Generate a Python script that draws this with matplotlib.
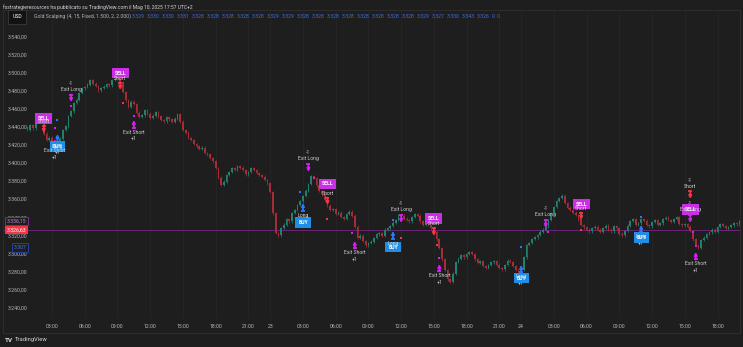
import matplotlib
matplotlib.use('Agg')
import matplotlib.pyplot as plt
from matplotlib.transforms import offset_copy, blended_transform_factory
from matplotlib.patches import Rectangle
import numpy as np

plt.rcParams['font.family'] = ['Roboto', 'DejaVu Sans']

# ---------------- data (15-minute closes) ----------------
first_open = 3440.0
closes = [
    3437.5, 3442.6, 3439.0, 3448.1, 3451.0, 3449.2, 3433.0, 3426.0, 3428.5, 3417.1,
    3424.0, 3421.6, 3427.5, 3437.0, 3441.0, 3452.5, 3458.0, 3466.9, 3470.5, 3478.0,
    3483.0, 3484.7, 3487.0, 3492.4, 3488.5, 3485.8, 3481.0, 3483.5, 3485.0, 3488.0,
    3486.5, 3492.4, 3494.0, 3499.0, 3490.0, 3479.1, 3470.0, 3462.5, 3468.5, 3465.8,
    3456.0, 3451.4, 3453.5, 3459.2, 3455.0, 3450.3, 3453.0, 3457.0, 3452.0, 3448.1,
    3446.5, 3451.4, 3449.0, 3445.9, 3449.5, 3454.8, 3446.0, 3437.0, 3434.0, 3428.2,
    3426.0, 3421.6, 3419.0, 3416.0, 3417.5, 3411.6, 3410.0, 3406.1, 3402.5, 3395.0,
    3384.0, 3376.2, 3380.0, 3387.2, 3390.5, 3395.0, 3393.0, 3397.2, 3395.5, 3392.8,
    3388.0, 3390.6, 3394.5, 3392.8, 3389.5, 3387.2, 3385.5, 3381.7, 3378.0, 3368.4,
    3345.0, 3323.0, 3320.5, 3328.6, 3332.0, 3338.5, 3336.0, 3345.2, 3348.5, 3354.0,
    3358.0, 3364.0, 3370.0, 3377.3, 3386.0, 3383.9, 3376.0, 3369.5, 3366.0, 3359.6,
    3353.0, 3348.5, 3349.5, 3344.1, 3345.5, 3340.7, 3338.5, 3344.1, 3346.5, 3341.9,
    3330.0, 3317.5, 3320.0, 3314.2, 3309.5, 3312.0, 3313.5, 3317.5, 3321.5, 3323.0,
    3320.0, 3326.4, 3328.0, 3330.8, 3334.5, 3337.4, 3343.0, 3341.9, 3339.0, 3337.4,
    3336.0, 3340.7, 3343.5, 3341.9, 3336.0, 3331.9, 3334.5, 3331.9, 3328.0, 3324.1,
    3316.0, 3306.4, 3294.0, 3282.1, 3272.0, 3268.8, 3278.0, 3290.9, 3294.5, 3298.7,
    3296.0, 3299.8, 3302.0, 3299.8, 3294.0, 3289.8, 3291.5, 3286.5, 3284.5, 3287.6,
    3290.5, 3292.0, 3288.0, 3284.3, 3283.0, 3287.6, 3292.5, 3290.9, 3286.5, 3282.1,
    3279.5, 3282.1, 3296.0, 3309.7, 3312.0, 3316.4, 3318.5, 3320.8, 3324.5, 3326.4,
    3330.0, 3337.4, 3345.0, 3351.8, 3358.5, 3361.8, 3364.5, 3356.2, 3351.0, 3348.5,
    3345.5, 3343.0, 3338.0, 3331.9, 3329.5, 3326.4, 3325.0, 3328.6, 3330.0, 3326.4,
    3324.5, 3328.6, 3331.0, 3326.4, 3325.0, 3330.8, 3328.0, 3322.0, 3320.5, 3325.2,
    3331.0, 3336.3, 3338.0, 3331.9, 3334.0, 3338.5, 3336.5, 3331.9, 3330.5, 3335.2,
    3337.0, 3331.9, 3334.0, 3338.5, 3340.0, 3337.4, 3335.5, 3338.5, 3340.5, 3333.0,
    3331.5, 3333.0, 3330.0, 3325.2, 3316.0, 3309.7, 3306.5, 3315.3, 3318.0, 3321.9,
    3324.0, 3326.4, 3324.5, 3329.7, 3332.5, 3330.8, 3328.0, 3329.7, 3331.5, 3334.1,
    3332.5, 3336.2,
]
bars_per_hour = 4

price_ticks = [3240, 3260, 3280, 3300, 3320, 3340, 3360, 3380, 3400, 3420,
               3440, 3460, 3480, 3500, 3520, 3540]
time_tick_hours = [2, 5, 8, 11, 14, 17, 20, 22, 25, 28, 31, 34, 37, 40, 43, 45,
                   48, 51, 54, 57, 60, 63]
time_tick_labels = ['03:00', '06:00', '09:00', '12:00', '15:00', '18:00', '21:00', '23',
                    '03:00', '06:00', '09:00', '12:00', '15:00', '18:00', '21:00', '24',
                    '03:00', '06:00', '09:00', '12:00', '15:00', '18:00']

# strategy orders (15-min bar index, arrow tip price)
short_bars = [6, 34, 110, 149, 203, 243]
short_tips = [3433.7, 3481.3, 3354.0, 3319.7, 3337.4, 3360.7]
long_bars = [11, 101, 134, 181, 225]
long_tips = [3432.6, 3356.2, 3325.2, 3287.6, 3331.9]
xshort_bars = [10, 39, 120, 151, 245]
xshort_tips = [3427.1, 3448.1, 3314.2, 3288.7, 3302.0]
xlong_bars = [16, 103, 137, 190, 243]
xlong_tips = [3468.0, 3390.6, 3334.1, 3328.6, 3334.1]

# indicator labels
sell_lbl_bars = [6, 34, 110, 149, 203, 243]
sell_lbl_prices = [3449.8, 3500.1, 3377.3, 3339.1, 3355.1, 3349.0]
buy_lbl_bars = [11, 101, 134, 181, 225]
buy_lbl_prices = [3418.8, 3334.7, 3307.5, 3273.2, 3318.0]

# indicator dots
dot_bars = [11, 10, 16, 35, 39, 100, 105, 110, 119, 134, 137, 150, 151, 181, 191, 203,
            225, 244, 245]
dot_prices = [3448.1, 3439.3, 3463.6, 3466.9, 3452.5, 3368.4, 3383.9, 3338.5, 3323.0,
              3337.4, 3317.5, 3309.7, 3295.4, 3307.5, 3324.1, 3326.4, 3340.7, 3324.1, 3308.6]
dot_kind = ['b', 'm', 'm', 'r', 'm', 'b', 'm', 'r', 'm', 'b', 'r', 'r', 'm', 'b', 'm',
            'r', 'b', 'm', 'm']

legend_values = [3.329, 3.330, 3.330, 3.331, 3.328, 3.328, 3.328, 3.328, 3.328, 3.329,
                 3.329, 3.328, 3.328, 3.328, 3.328, 3.328, 3.328, 3.328, 3.328, 3.329,
                 3.327, 3.330, 3.343, 3.326]
last_price = 3326.63
tag_purple = 3336.15
tag_blue = 3307

# ---------------- style ----------------
BG = '#1e1e1e'
UP = '#23806e'
DOWN = '#a42d38'
RED = '#f23645'
BLUE = '#2979ff'
MAG = '#d41ff0'
BOXMAG = '#cc2ee8'
BOXBLUE = '#1e8ee6'
TXT = '#c8cad0'
GRID = '#262626'

W, H = 743, 347
fig = plt.figure(figsize=(W / 100, H / 100), dpi=100)
fig.patch.set_facecolor(BG)


def px_axes(x0, y0, x1, y1):
    return fig.add_axes([x0 / W, 1 - y1 / H, (x1 - x0) / W, (y1 - y0) / H])


ax = px_axes(3, 10, 740, 318)
ax.set_facecolor(BG)
for s in ax.spines.values():
    s.set_visible(False)
ax.set_xticks([])
ax.set_yticks([])

# bar j -> pixel: x = 30.2 + 2.7275*(j-1); axes span 3..740 px
px_per_bar = 10.91 / bars_per_hour
ax.set_xlim((3 - 30.2) / px_per_bar + 1, (740 - 30.2) / px_per_bar + 1)
# price -> pixel: y = 37 + (3540-p)*0.9033 ; axes 10..318 px
ppx = 1 / 0.9033
ax.set_ylim(3540 - (318 - 37) * ppx, 3540 - (10 - 37) * ppx)


def hour_to_bar(h):
    return h * bars_per_hour + 1


# grid (vertical)
for h in time_tick_hours:
    ax.axvline(hour_to_bar(h), color=GRID, lw=0.6, zorder=0)

# outer frame
fig.patches.append(Rectangle((3 / W, 1 - 333 / H), 737 / W, 323 / H, transform=fig.transFigure,
                             fill=False, ec='#2c2c2c', lw=0.8))

# candles
c = np.array(closes)
o = np.r_[first_open, c[:-1]]
b = np.arange(len(c))
up = c >= o
cols = np.where(up, UP, DOWN)
wick = 1.6
hi = np.maximum(o, c) + wick
lo = np.minimum(o, c) - wick
ax.vlines(b, lo, hi, colors=cols, lw=0.55, zorder=2)
body = np.maximum(np.abs(c - o), 0.8)
ax.bar(b, body, bottom=np.minimum(o, c), width=0.62, color=cols, lw=0, zorder=3)

# last price line
ax.axhline(last_price, color='#6b2478', lw=0.7, zorder=1)

FS = 3.7


def off(dy_px):
    return offset_copy(ax.transData, fig=fig, x=0, y=-dy_px, units='dots')


def arrow(bb, p, down, color):
    d = -7.5 if down else 7.5
    ax.annotate('', xy=(bb, p), xytext=(0, -d * 0.72), textcoords='offset points',
                arrowprops=dict(arrowstyle='-|>', color=color, lw=1.3, mutation_scale=4,
                                shrinkA=0, shrinkB=0), zorder=6)
    ax.plot([bb], [p], marker='_', ms=3.5, mew=1.3, color=color, transform=off(d), zorder=6)


def txt(bb, p, dy_px, s, color=TXT, fs=FS, z=7, **kw):
    ax.annotate(s, xy=(bb, p), xytext=(0, -dy_px * 0.72), textcoords='offset points',
                ha='center', va='center', fontsize=fs, color=color, zorder=z, **kw)


def box(bb, p, s, fc):
    ax.annotate(s, xy=(bb, p), ha='center', va='center', fontsize=FS, color='white',
                fontweight='bold', zorder=8,
                bbox=dict(boxstyle='square,pad=0.55', fc=fc, ec='none'))


# dots
dcol = {'b': BLUE, 'm': MAG, 'r': RED}
for bb, p, k in zip(dot_bars, dot_prices, dot_kind):
    ax.plot([bb], [p], marker='s', ms=1.6, color=dcol[k], mew=0, zorder=5)

# short entries
for bb, p in zip(short_bars, short_tips):
    arrow(bb, p, True, RED)
    txt(bb, p, -18, '-1', z=7)
# exit long
for bb, p in zip(xlong_bars, xlong_tips):
    arrow(bb, p, True, MAG)
    txt(bb, p, -19, '-1')
    txt(bb, p, -13, 'Exit Long', z=9)
# long entries
for bb, p in zip(long_bars, long_tips):
    arrow(bb, p, False, BLUE)
    txt(bb, p, 18, '+1', z=7)
# exit short
for bb, p in zip(xshort_bars, xshort_tips):
    arrow(bb, p, False, MAG)
    txt(bb, p, 12, 'Exit Short', z=9)
    txt(bb, p, 18, '+1', z=9)

# indicator boxes
for bb, p in zip(sell_lbl_bars, sell_lbl_prices):
    box(bb, p, 'SELL', BOXMAG)
for bb, p in zip(buy_lbl_bars, buy_lbl_prices):
    box(bb, p, 'BUY', BOXBLUE)

# strategy texts drawn over boxes
for bb, p in zip(short_bars, short_tips):
    txt(bb, p, -12, 'Short', color='#d8d8d8', z=9)
for bb, p in zip(long_bars, long_tips):
    txt(bb, p, 12, 'Long', color='#d8d8d8', z=9)


def fmt_it(v):
    return f"{v:,.2f}".replace(',', 'X').replace('.', ',').replace('X', '.')


# price scale labels (inside pane at left)
tr = blended_transform_factory(ax.transAxes, ax.transData)
for p in price_ticks:
    ax.text(5 / 737, p, fmt_it(p), transform=tr, ha='left', va='center', fontsize=FS,
            color='#b2b5be', zorder=10)

ax.text(4 / 737, tag_purple, fmt_it(tag_purple), transform=tr, ha='left', va='center',
        fontsize=FS, color='#b98ad0', zorder=11,
        bbox=dict(boxstyle='square,pad=0.3', fc=BG, ec='#7b2a9a', lw=0.7))
ax.text(4 / 737, last_price, fmt_it(last_price), transform=tr, ha='left', va='center',
        fontsize=FS, color='white', zorder=12,
        bbox=dict(boxstyle='square,pad=0.3', fc=RED, ec='none'))
ax.text(11 / 737, tag_blue, f"{tag_blue:,}".replace(',', '.'), transform=tr, ha='left',
        va='center', fontsize=FS, color='#4c6fd8', zorder=11,
        bbox=dict(boxstyle='square,pad=0.3', fc=BG, ec='#23409a', lw=0.7))

# time axis labels
for h, lab in zip(time_tick_hours, time_tick_labels):
    ax.annotate(lab, xy=(hour_to_bar(h), 0), xycoords=('data', 'axes fraction'),
                xytext=(0, -9 * 0.72), textcoords='offset points', ha='center', va='center',
                fontsize=FS, color='#b2b5be', annotation_clip=False)

# header
fig.text(3 / W, 1 - 7 / H, 'fxstrategieresources ha pubblicato su TradingView.com il Mag 10, 2025 17:57 UTC+2',
         fontsize=3.6, color='#d1d4dc', va='center', ha='left')
fig.text(17 / W, 1 - 17 / H, 'USD', fontsize=FS, color='white', va='center', ha='center',
         bbox=dict(boxstyle='square,pad=0.8', fc='#121212', ec='#3a3a3a', lw=0.6))
fig.text(34 / W, 1 - 16.5 / H, 'Gold Scalping (4, 15, Fixed, 1.500, 2, 2.000)', fontsize=FS,
         color='#b2b5be', va='center', ha='left')
for i, v in enumerate(legend_values):
    fig.text((132 + 15 * i) / W, 1 - 16.5 / H, f"{v:.3f}", fontsize=FS, color='#3d6de0',
             va='center', ha='left')
n = len(legend_values)
fig.text((132 + 15 * n) / W, 1 - 16.5 / H, '0', fontsize=FS, color='#3d6de0', va='center', ha='left')
fig.text((137 + 15 * n) / W, 1 - 16.5 / H, '0', fontsize=FS, color='#a030c0', va='center', ha='left')

# footer logo
fig.text(5 / W, 1 - 340 / H, 'TV', fontsize=4.6, color='#e0e0e0', fontweight='bold', va='center')
fig.text(15 / W, 1 - 340 / H, 'TradingView', fontsize=4.2, color='#d1d4dc', va='center')

fig.savefig('out.png', dpi=100, facecolor=BG)
